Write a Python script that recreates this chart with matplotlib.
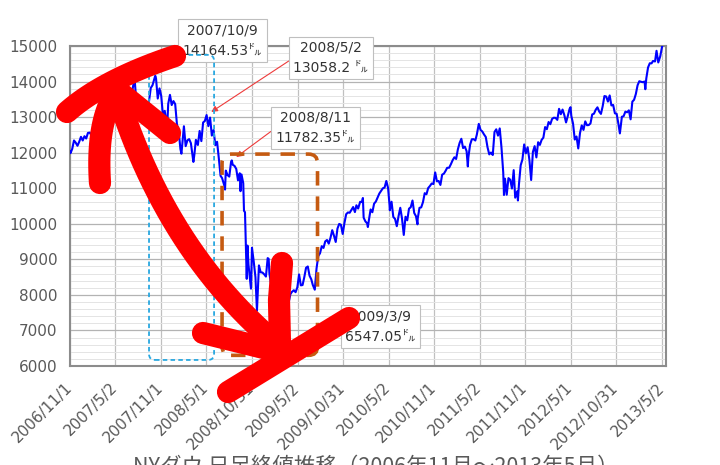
import matplotlib
matplotlib.use("Agg")
import matplotlib.pyplot as plt
import matplotlib.dates as mdates
from matplotlib.patches import FancyBboxPatch
from matplotlib.lines import Line2D
from matplotlib.transforms import Affine2D, IdentityTransform
from matplotlib.ticker import MultipleLocator
import pandas as pd
import numpy as np

plt.rcParams['font.family'] = ['DejaVu Sans', 'Noto Sans CJK JP']

# weekly-ish closes (month-day, value) per year
d2006 = ["11-01", "11-03", "11-10", "11-17", "11-24", "12-01", "12-08", "12-15", "12-22", "12-29"]
c2006 = [12031, 11986, 12108, 12343, 12280, 12194, 12307, 12445, 12343, 12463]

d2007 = ["01-05", "01-12", "01-19", "01-26", "02-02", "02-09", "02-16", "02-23", "03-02", "03-09",
         "03-16", "03-23", "03-30", "04-06", "04-13", "04-20", "04-27", "05-04", "05-11", "05-18",
         "05-25", "06-01", "06-08", "06-15", "06-22", "06-29", "07-06", "07-13", "07-19", "07-27",
         "08-03", "08-10", "08-16", "08-24", "08-31", "09-07", "09-14", "09-21", "09-28", "10-05",
         "10-09", "10-12", "10-19", "10-26", "11-02", "11-09", "11-16", "11-26", "11-30", "12-07",
         "12-14", "12-21", "12-28"]
c2007 = [12398, 12556, 12565, 12487, 12653, 12581, 12768, 12647, 12114, 12276,
         12110, 12481, 12354, 12560, 12612, 12962, 13121, 13265, 13327, 13556,
         13507, 13668, 13424, 13640, 13361, 13409, 13611, 13908, 14000, 13266,
         13182, 13240, 12845, 13379, 13358, 13113, 13443, 13821, 13896, 14066,
         14164.53, 14093, 13522, 13807, 13595, 13042, 13177, 12743, 13372, 13626,
         13339, 13451, 13366]

d2008 = ["01-04", "01-11", "01-18", "01-22", "01-25", "02-01", "02-08", "02-15", "02-22", "02-29",
         "03-07", "03-10", "03-14", "03-20", "03-28", "04-04", "04-11", "04-18", "04-25", "05-02",
         "05-09", "05-16", "05-23", "05-30", "06-06", "06-13", "06-20", "06-27", "07-03", "07-11",
         "07-15", "07-18", "07-25", "08-01", "08-08", "08-11", "08-15", "08-22", "08-29", "09-05",
         "09-12", "09-15", "09-19", "09-26", "09-29", "10-03", "10-10", "10-13", "10-17", "10-24",
         "10-27", "10-31", "11-07", "11-14", "11-20", "11-28", "12-05", "12-12", "12-19", "12-26"]
c2008 = [12800, 12606, 12100, 11971, 12207, 12743, 12183, 12348, 12381, 12266,
         11894, 11740, 11951, 12361, 12216, 12610, 12325, 12849, 12891, 13058.2,
         12745, 12986, 12480, 12638, 12210, 12307, 11843, 11347, 11288, 11100,
         10962, 11496, 11370, 11326, 11734, 11782.35, 11659, 11628, 11543, 11220,
         11421, 10917, 11388, 11143, 10365, 10325, 8451, 9387, 8852, 8378,
         8175, 9325, 8943, 8497, 7552, 8829, 8635, 8629, 8579, 8515]

d2009 = ["01-02", "01-06", "01-09", "01-16", "01-23", "01-30", "02-06", "02-13", "02-20", "02-27",
         "03-06", "03-09", "03-13", "03-20", "03-27", "04-03", "04-09", "04-17", "04-24", "05-01",
         "05-08", "05-15", "05-22", "05-29", "06-05", "06-12", "06-19", "06-26", "07-02", "07-10",
         "07-17", "07-24", "07-31", "08-07", "08-14", "08-21", "08-28", "09-04", "09-11", "09-18",
         "09-25", "10-02", "10-09", "10-16", "10-23", "10-30", "11-06", "11-13", "11-20", "11-27",
         "12-04", "12-11", "12-18", "12-24", "12-31"]
c2009 = [9034, 9015, 8599, 8281, 8077, 8001, 8280, 7850, 7366, 7062,
         6627, 6547.05, 7224, 7278, 7776, 8018, 8083, 8131, 8076, 8212,
         8575, 8268, 8277, 8500, 8764, 8799, 8539, 8438, 8280, 8146,
         8743, 9093, 9171, 9370, 9321, 9505, 9544, 9441, 9605, 9820,
         9665, 9488, 9865, 9996, 9972, 9713, 10023, 10270, 10318, 10310,
         10389, 10471, 10329, 10520, 10428]

d2010 = ["01-08", "01-15", "01-19", "01-22", "01-29", "02-05", "02-08", "02-12", "02-19", "02-26",
         "03-05", "03-12", "03-19", "03-26", "04-02", "04-09", "04-16", "04-23", "04-30", "05-06",
         "05-07", "05-14", "05-21", "05-28", "06-04", "06-11", "06-18", "06-25", "07-02", "07-09",
         "07-16", "07-23", "07-30", "08-06", "08-13", "08-20", "08-26", "08-27", "09-03", "09-10",
         "09-17", "09-24", "10-01", "10-08", "10-15", "10-22", "10-29", "11-05", "11-12", "11-19",
         "11-26", "12-03", "12-10", "12-17", "12-23", "12-31"]
c2010 = [10618, 10610, 10725, 10173, 10067, 10013, 9908, 10099, 10403, 10325,
         10567, 10625, 10742, 10851, 10927, 10998, 11019, 11204, 11009, 10520,
         10380, 10620, 10193, 10137, 9932, 10212, 10450, 10144, 9686, 10198,
         10098, 10425, 10466, 10654, 10303, 10213, 9985, 10150, 10448, 10462,
         10608, 10860, 10829, 11006, 11063, 11133, 11118, 11445, 11193, 11204,
         11092, 11382, 11410, 11492, 11573, 11577]

d2011 = ["01-07", "01-14", "01-21", "01-28", "02-04", "02-11", "02-18", "02-25", "03-04", "03-11",
         "03-16", "03-18", "03-25", "04-01", "04-08", "04-15", "04-21", "04-29", "05-06", "05-13",
         "05-20", "05-27", "06-03", "06-10", "06-17", "06-24", "07-01", "07-08", "07-15", "07-22",
         "07-29", "08-05", "08-08", "08-12", "08-19", "08-26", "09-02", "09-09", "09-16", "09-22",
         "09-30", "10-03", "10-07", "10-14", "10-21", "10-28", "11-04", "11-11", "11-18", "11-25",
         "12-02", "12-09", "12-16", "12-23", "12-30"]
c2011 = [11675, 11787, 11871, 11823, 12092, 12273, 12391, 12130, 12170, 12044,
         11613, 11859, 12221, 12377, 12380, 12342, 12505, 12810, 12638, 12596,
         12512, 12441, 12151, 11952, 12004, 11934, 12582, 12657, 12479, 12681,
         12143, 11444, 10809, 11269, 10817, 11284, 11240, 10992, 11509, 10733,
         10913, 10655, 11103, 11644, 11809, 12231, 11983, 12153, 11796, 11231,
         12019, 12184, 11867, 12294, 12218]

d2012 = ["01-06", "01-13", "01-20", "01-27", "02-03", "02-10", "02-17", "02-24", "03-02", "03-09",
         "03-16", "03-23", "03-30", "04-06", "04-13", "04-20", "04-27", "05-01", "05-04", "05-11",
         "05-18", "05-25", "06-01", "06-08", "06-15", "06-22", "06-29", "07-06", "07-13", "07-20",
         "07-27", "08-03", "08-10", "08-17", "08-24", "08-31", "09-07", "09-14", "09-21", "09-28",
         "10-05", "10-12", "10-19", "10-26", "11-02", "11-09", "11-15", "11-23", "11-30", "12-07",
         "12-14", "12-21", "12-28"]
c2012 = [12360, 12422, 12720, 12660, 12862, 12801, 12950, 12983, 12978, 12922,
         13233, 13081, 13212, 13060, 12850, 13029, 13228, 13279, 13038, 12821,
         12369, 12455, 12119, 12554, 12767, 12640, 12880, 12772, 12777, 12822,
         13075, 13096, 13207, 13275, 13157, 13090, 13306, 13593, 13579, 13437,
         13610, 13328, 13343, 13107, 13093, 12815, 12542, 13010, 13026, 13155,
         13135, 13190, 12938]

d2013 = ["01-04", "01-11", "01-18", "01-25", "02-01", "02-08", "02-15", "02-22", "02-25", "03-01",
         "03-08", "03-15", "03-22", "03-28", "04-05", "04-11", "04-18", "04-26", "05-03", "05-07"]
c2013 = [13435, 13488, 13650, 13896, 14010, 13993, 13982, 14001, 13784, 14090,
         14397, 14515, 14512, 14579, 14565, 14865, 14537, 14712, 14974, 15056]

tick_labels = ["2006/11/1", "2007/5/2", "2007/11/1", "2008/5/1", "2008/10/31", "2009/5/2",
               "2009/10/31", "2010/5/2", "2010/11/1", "2011/5/2", "2011/11/1", "2012/5/1",
               "2012/10/31", "2013/5/2"]

# labelled points: date, value text, unit
callout_dates = ["2007/10/9", "2008/5/2", "2008/8/11", "2009/3/9"]
callout_values = ["14164.53", "13058.2", "11782.35", "6547.05"]
callout_units = ["㌦", " ㌦", "㌦", "㌦"]

title = "NYダウ 日足終値推移（2006年11月～2013年5月）"

dates, closes = [], []
for yr, ds, cs in [(2006, d2006, c2006), (2007, d2007, c2007), (2008, d2008, c2008),
                   (2009, d2009, c2009), (2010, d2010, c2010), (2011, d2011, c2011),
                   (2012, d2012, c2012), (2013, d2013, c2013)]:
    dates += [pd.Timestamp(f"{yr}-{d}") for d in ds]
    closes += cs

W, H = 720, 465
fig = plt.figure(figsize=(W / 100, H / 100), dpi=100)
ax = fig.add_axes([70 / W, 1 - 366 / H, 596 / W, 320 / H])

ax.plot(dates, closes, color='#0000ff', lw=1.5, zorder=3)

ax.set_xlim(pd.Timestamp("2006-11-01"), pd.Timestamp("2013-05-19"))
ax.set_ylim(6000, 15000)
ax.yaxis.set_major_locator(MultipleLocator(1000))
ax.yaxis.set_minor_locator(MultipleLocator(200))
ticks = pd.to_datetime(tick_labels, format="%Y/%m/%d")
ax.set_xticks(ticks)
ax.set_xticklabels(tick_labels, rotation=45, ha='right', va='center', rotation_mode='anchor')

ax.grid(which='major', axis='y', color='#b3b3b3', lw=0.9)
ax.grid(which='minor', axis='y', color='#e4e4e4', lw=0.7)
ax.grid(which='major', axis='x', color='#c0c0c0', lw=0.9)
ax.set_axisbelow(True)
ax.tick_params(axis='y', which='both', length=0, pad=9, labelsize=11, labelcolor='#595959')
ax.tick_params(axis='x', length=0, pad=14, labelsize=11, labelcolor='#595959')
for sp in ax.spines.values():
    sp.set_color('#8c8c8c')
    sp.set_linewidth(1.5)

# dashed highlight frames (date range, value range)
frames = [
    (("2007-09-14", "2008-06-01"), (6170, 14750), '#29a8e0', 1.3, (0, (2.5, 1.8)), 6),
    (("2008-07-03", "2009-07-21"), (6300, 11960), '#c55a11', 2.6, (0, (4, 3)), 9),
]
for (x0, x1), (y0, y1), col, lw, ls, rad in frames:
    px0, py0 = ax.transData.transform((mdates.date2num(pd.Timestamp(x0)), y0))
    px1, py1 = ax.transData.transform((mdates.date2num(pd.Timestamp(x1)), y1))
    fr = FancyBboxPatch((px0, py0), px1 - px0, py1 - py0,
                        boxstyle=f"round,pad=0,rounding_size={rad}",
                        transform=IdentityTransform(), fill=False, ec=col, lw=lw, ls=ls,
                        zorder=4, clip_on=False)
    fig.add_artist(fr)

# callout boxes (centre positions in figure pixels from top-left)
box_centres = [(222.5, 40.5), (331, 58), (315.5, 128), (380.5, 326.5)]
for d, v, u, (cx, cy) in zip(callout_dates, callout_values, callout_units, box_centres):
    ax.annotate(f"{d}\n{v}{u}", xy=(pd.Timestamp(d.replace('/', '-')), float(v)), xycoords='data',
                xytext=(cx, H - cy), textcoords='figure pixels',
                ha='center', va='center', fontsize=10, color='#333333', linespacing=1.55,
                bbox=dict(boxstyle='square,pad=0.3', fc='white', ec='#bfbfbf', lw=0.8),
                arrowprops=dict(arrowstyle='-|>', color='#ee3b3b', lw=0.8, mutation_scale=9,
                                shrinkA=0, shrinkB=4, relpos=(0, 0.5)),
                annotation_clip=False, zorder=6)


# hand-drawn red marker strokes (figure pixels, top-left origin)
def bez(p0, c, p2, n=30):
    t = np.linspace(0, 1, n)[:, None]
    pts = (1 - t) ** 2 * np.array(p0) + 2 * (1 - t) * t * np.array(c) + t ** 2 * np.array(p2)
    return pts[:, 0], pts[:, 1]


strokes = [
    bez((67, 112), (103, 80), (175, 56)),
    bez((100, 183), (96, 122), (116, 92)),
    ([170, 118], [133, 91]),
    bez((116, 90), (165, 250), (278, 345)),
    ([282, 279, 280], [263, 300, 345]),
    ([203, 280], [333, 352]),
    ([349, 228], [318, 392]),
]
flip = Affine2D().scale(1, -1).translate(0, H)
for xs, ys in strokes:
    fig.add_artist(Line2D(xs, ys, transform=flip, color='#ff0000', lw=16,
                          solid_capstyle='round', solid_joinstyle='round', zorder=10))

# chart title sits at the bottom, partly cut off as in the source screenshot
fig.text(376 / W, 9 / H, title, ha='center', va='top', fontsize=15.5, color='#595959',
         family=['Noto Sans CJK JP', 'DejaVu Sans'])

fig.savefig("out.png", dpi=100)
